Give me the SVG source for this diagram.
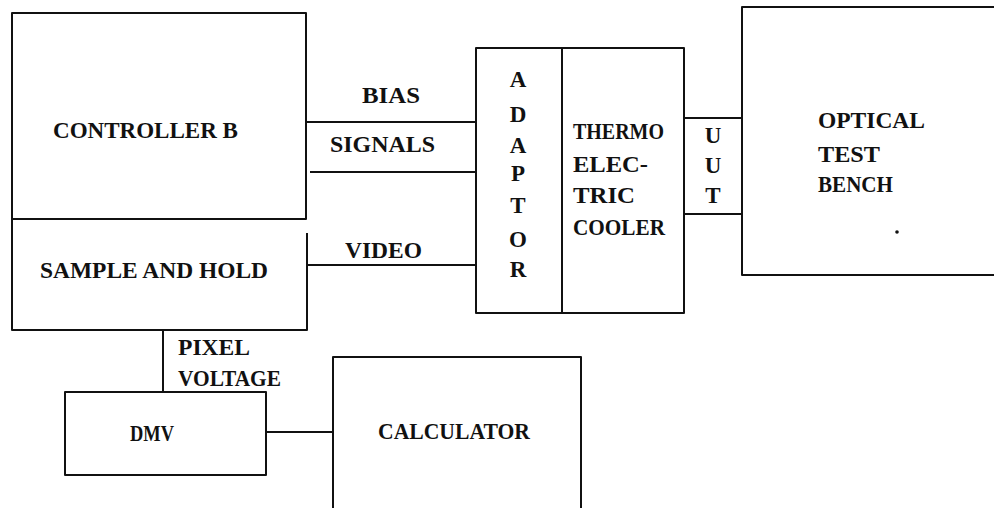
<svg xmlns="http://www.w3.org/2000/svg" width="997" height="508" viewBox="0 0 997 508">
<style>
.b{fill:none;stroke:#111;stroke-width:2;stroke-linejoin:round}
.c{fill:none;stroke:#111;stroke-width:2}
.t{font-family:"Liberation Serif","Times New Roman",serif;font-weight:bold;font-size:23px;fill:#111}
.m{text-anchor:middle}
</style>
<rect width="997" height="508" fill="#fff"/>
<g id="controller">
<rect class="b" x="12" y="13" width="294" height="206"/>
<text class="t" x="53" y="138" textLength="185" lengthAdjust="spacingAndGlyphs">CONTROLLER B</text>
</g>
<g id="sample-hold">
<path class="b" d="M12 219 V330 H307 V233"/>
<text class="t" x="40" y="278" textLength="228" lengthAdjust="spacingAndGlyphs">SAMPLE AND HOLD</text>
</g>
<g id="adaptor">
<rect class="b" x="476" y="48" width="86" height="265"/>
<g class="t m">
<text x="518" y="87">A</text>
<text x="518" y="122">D</text>
<text x="518" y="153">A</text>
<text x="518" y="181">P</text>
<text x="518" y="213">T</text>
<text x="518" y="247">O</text>
<text x="518" y="277">R</text>
</g>
</g>
<g id="cooler">
<rect class="b" x="562" y="48" width="122" height="265"/>
<text class="t" x="573" y="139" textLength="91" lengthAdjust="spacingAndGlyphs">THERMO</text>
<text class="t" x="573" y="172" textLength="75" lengthAdjust="spacingAndGlyphs">ELEC-</text>
<text class="t" x="573" y="203" textLength="62" lengthAdjust="spacingAndGlyphs">TRIC</text>
<text class="t" x="573" y="235" textLength="92" lengthAdjust="spacingAndGlyphs">COOLER</text>
</g>
<g id="uut">
<rect class="b" x="684" y="118" width="58" height="96"/>
<g class="t m">
<text x="713" y="143">U</text>
<text x="713" y="173">U</text>
<text x="713" y="203">T</text>
</g>
</g>
<g id="optical-test-bench">
<path class="b" d="M994 7 H742 V275 H994"/>
<text class="t" x="818" y="128" textLength="107" lengthAdjust="spacingAndGlyphs">OPTICAL</text>
<text class="t" x="818" y="162" textLength="62" lengthAdjust="spacingAndGlyphs">TEST</text>
<text class="t" x="818" y="192" textLength="75" lengthAdjust="spacingAndGlyphs">BENCH</text>
<circle cx="897" cy="232" r="1.8" fill="#111"/>
</g>
<g id="dmv">
<rect class="b" x="65" y="392" width="201" height="83"/>
<text class="t" x="130" y="441" textLength="44" lengthAdjust="spacingAndGlyphs">DMV</text>
</g>
<g id="calculator">
<path class="b" d="M333 510 V357 H581 V510"/>
<text class="t" x="378" y="439" textLength="152" lengthAdjust="spacingAndGlyphs">CALCULATOR</text>
</g>
<g id="connectors">
<line class="c" x1="307" y1="122" x2="476" y2="122"/>
<line class="c" x1="310" y1="172" x2="476" y2="172"/>
<line class="c" x1="307" y1="265" x2="476" y2="265"/>
<line class="c" x1="163" y1="330" x2="163" y2="392"/>
<line class="c" x1="266" y1="432" x2="333" y2="432"/>
<text class="t" x="362" y="103" textLength="58" lengthAdjust="spacingAndGlyphs">BIAS</text>
<text class="t" x="330" y="152" textLength="105" lengthAdjust="spacingAndGlyphs">SIGNALS</text>
<text class="t" x="345" y="258" textLength="77" lengthAdjust="spacingAndGlyphs">VIDEO</text>
<text class="t" x="178" y="355" textLength="72" lengthAdjust="spacingAndGlyphs">PIXEL</text>
<text class="t" x="178" y="386" textLength="103" lengthAdjust="spacingAndGlyphs">VOLTAGE</text>
</g>
</svg>
